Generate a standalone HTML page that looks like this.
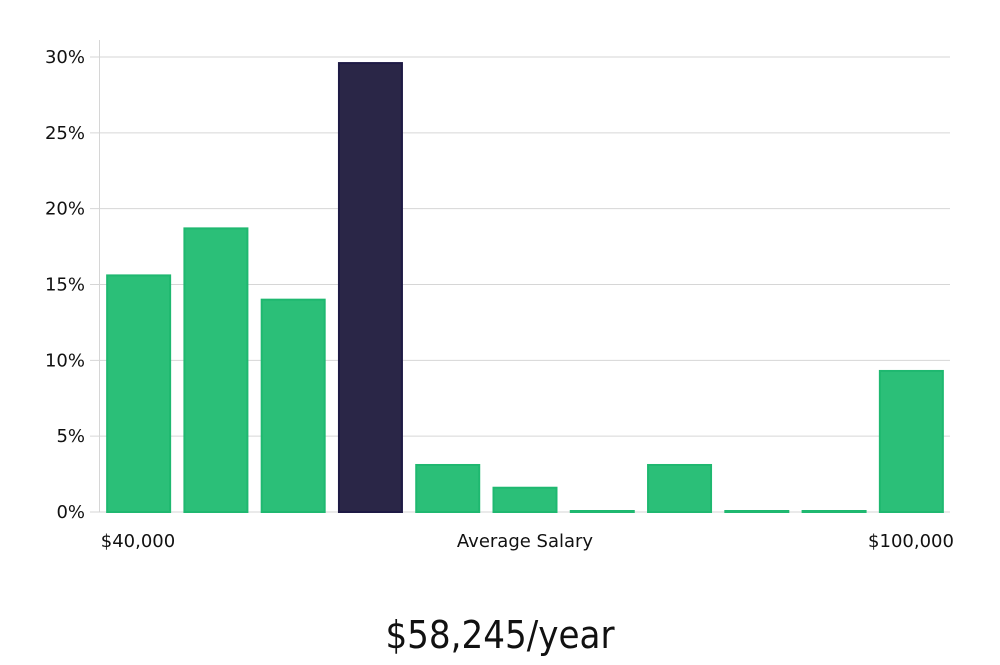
<!DOCTYPE html>
<html><head><meta charset="utf-8"><style>
body{margin:0;background:#fff;width:1000px;height:660px;overflow:hidden}
svg text{font-family:"DejaVu Sans","Liberation Sans",sans-serif;fill:#111}
</style></head><body>
<svg id="chart" width="1000" height="660">
<g id="grid"></g><g id="bars"></g><g id="axes"></g>
<text x="138" y="547" font-size="18" text-anchor="middle">$40,000</text>
<text x="525" y="547" font-size="18" text-anchor="middle">Average Salary</text>
<text x="911" y="547" font-size="18" text-anchor="middle">$100,000</text>
<text x="500" y="648" font-size="38" text-anchor="middle" style="font-family:'Liberation Sans Narrow','DejaVu Sans Condensed',sans-serif;font-weight:300">$58,245/year</text>
</svg>
<script>
const categories=["b1","b2","b3","b4","b5","b6","b7","b8","b9","b10","b11"];
const values=[15.6,18.7,14.0,29.6,3.1,1.6,0,3.1,0,0,9.3];
const highlight=[false,false,false,true,false,false,false,false,false,false,false];
const ticks=[0,5,10,15,20,25,30];
const ns="http://www.w3.org/2000/svg";
const L=100,R=950,Y0=512,Y30=57;
const y=v=>Y0-(v/30)*(Y0-Y30);
const slot=(R-L)/categories.length;
const x=i=>L+i*slot;
function mk(t,a,p){const e=document.createElementNS(ns,t);for(const k in a)e.setAttribute(k,a[k]);p.appendChild(e);return e;}
const grid=document.getElementById('grid'),bars=document.getElementById('bars'),axes=document.getElementById('axes');
ticks.forEach(t=>{
 const g=mk('line',{x1:90,x2:R,y1:y(t),y2:y(t),stroke:'#d6d6d6','stroke-width':1},grid);
 
 
 const tx=mk('text',{x:85,y:y(t)+6,'font-size':18,'text-anchor':'end'},axes);
 tx.textContent=t+'%';
 
 
});
const ax=mk('line',{x1:99.5,x2:99.5,y1:40,y2:Y0,stroke:'#d6d6d6','stroke-width':1},axes);


values.forEach((v,i)=>{
 const bw=63,bx=x(i)+(slot-bw)/2;
 const h=Math.max(Y0-y(v),1);
 const r=mk('rect',{x:bx,y:Y0-h,width:bw,height:h,fill:highlight[i]?'#2a2647':'#2bbf78',stroke:highlight[i]?'#1e1a45':'#1fb870','stroke-width':2},bars);
 
 
});
</script>
</body></html>
